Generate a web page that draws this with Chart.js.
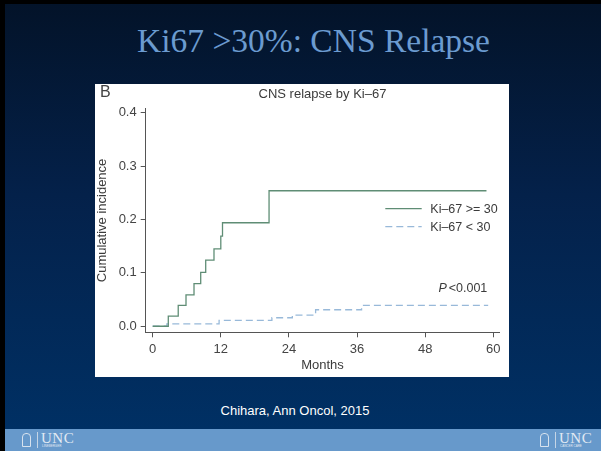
<!DOCTYPE html>
<html>
<head>
<meta charset="utf-8">
<script src="https://cdn.jsdelivr.net/npm/chart.js@4/dist/chart.umd.min.js"></script>
<style>
  html, body { margin: 0; padding: 0; background: #000; }
  #slide { position: absolute; left: 0; top: 0; width: 601px; height: 451px; background: #000; overflow: hidden; }
  #bg { position: absolute; left: 5px; top: 4px; width: 596px; height: 425px;
        background: linear-gradient(to bottom, #031329 0%, #04214a 45%, #003064 100%); }
  #title { position: absolute; left: 13px; top: 22px; width: 601px; text-align: center;
           font-family: "Liberation Serif", "Times New Roman", serif; font-size: 33.5px; color: #6b9bd0; }
  #box { position: absolute; left: 95px; top: 84px; width: 414px; height: 293px; background: #fff; }
  #caption { position: absolute; left: 0; top: 403px; width: 590px; text-align: center;
             font-family: "Liberation Sans", Arial, sans-serif; font-size: 13px; color: #fff; }
  #footer { position: absolute; left: 5px; top: 429px; width: 596px; height: 22px; background: #6799cb; }
  .logo { position: absolute; top: 3px; height: 16px; width: 60px; white-space: nowrap; }
  .well { position: absolute; left: 0; top: 1px; width: 9px; height: 14px; border: 1.5px solid #d7e2ee;
          border-radius: 4px 4px 0 0; box-sizing: border-box; }
  .sep { position: absolute; left: 15px; top: 0; width: 1px; height: 16px; background: #c5d5e6; }
  .unc { position: absolute; left: 19px; top: -2px; font-family: "Liberation Serif", serif; font-size: 15px; color: #e1e9f3; letter-spacing: 0.5px; }
  .sub { position: absolute; left: 20px; top: 12px; font-family: "Liberation Sans", sans-serif; font-size: 3px; color: #e1e9f3; white-space: nowrap; }
</style>
</head>
<body>
<div id="slide">
  <div id="bg"></div>
  <div id="title">Ki67 &gt;30%: CNS Relapse</div>
  <div id="box"><canvas id="km" width="414" height="293"></canvas></div>
  <div id="caption">Chihara, Ann Oncol, 2015</div>
  <div id="footer">
    <div class="logo" style="left:17px"><div class="well"></div><div class="sep"></div><div class="unc">UNC</div><div class="sub">LINEBERGER</div></div>
    <div class="logo" style="left:535px"><div class="well"></div><div class="sep"></div><div class="unc">UNC</div><div class="sub">CANCER CARE</div></div>
  </div>
</div>
<script>
// cumulative incidence of CNS relapse
const highMonths = [0, 2.75, 4.5, 5.87, 7.28, 8.46, 9.34, 10.8, 12.0, 12.3, 20.5, 58.8];
const highCum    = [0, 0.019, 0.039, 0.059, 0.080, 0.101, 0.124, 0.145, 0.169, 0.194, 0.254, 0.254];
const lowMonths  = [0, 2.5, 11.7, 21.0, 24.6, 28.7, 36.8, 59.1];
const lowCum     = [0, 0.0045, 0.011, 0.016, 0.021, 0.031, 0.039, 0.039];

const monthTicks = [0, 12, 24, 36, 48, 60];
const cumTicks = [0, 0.1, 0.2, 0.3, 0.4];

const seriesNames = ['Ki\u201367 >= 30', 'Ki\u201367 < 30'];
const seriesColors = ['#5f8d75', '#98b9d9'];

const font = 'Liberation Sans, Arial, sans-serif';
const textColor = '#3b3b3b';
const axisColor = '#555';

function toPoints(xs, ys) {
  return xs.map((x, i) => ({ x: x, y: ys[i] }));
}

// legend, panel letter and p value drawn inside the plot
const extras = {
  id: 'extras',
  afterDraw(chart) {
    const c = chart.ctx;
    const a = chart.chartArea;
    c.save();
    c.fillStyle = '#444';
    c.font = '16px ' + font;
    c.textBaseline = 'middle';
    c.textAlign = 'left';
    c.fillText('B', 5, 9);

    const lx0 = a.right - 114, lx1 = a.right - 77.6, tx = a.right - 69;
    const rows = [a.top + 100, a.top + 118];
    c.lineWidth = 1.3;
    rows.forEach((y, i) => {
      c.strokeStyle = seriesColors[i];
      c.setLineDash(i === 1 ? [7, 4] : []);
      c.beginPath();
      c.moveTo(lx0, y);
      c.lineTo(lx1, y);
      c.stroke();
      c.setLineDash([]);
      c.fillStyle = textColor;
      c.font = '12.5px ' + font;
      c.fillText(seriesNames[i], tx, y + 0.5);
    });

    const rest = '<0.001';
    c.font = '12.5px ' + font;
    const rw = c.measureText(rest).width + 2;
    const px = a.right - 12;
    const py = a.top + 180;
    c.textAlign = 'right';
    c.fillText(rest, px, py);
    c.font = 'italic 12.5px ' + font;
    c.fillText('P', px - rw, py);
    c.restore();
  }
};

const chart = new Chart(document.getElementById('km'), {
  type: 'line',
  data: {
    datasets: [{
      label: seriesNames[0],
      data: toPoints(highMonths, highCum),
      borderColor: seriesColors[0],
      borderWidth: 1.3,
      stepped: 'before',
      pointRadius: 0,
      fill: false
    }, {
      label: seriesNames[1],
      data: toPoints(lowMonths, lowCum),
      borderColor: seriesColors[1],
      borderWidth: 1.3,
      borderDash: [7, 4],
      stepped: 'before',
      pointRadius: 0,
      fill: false
    }]
  },
  options: {
    responsive: false,
    animation: false,
    devicePixelRatio: 1,
    layout: { padding: { top: 0, right: 9.7, bottom: 0, left: 0 } },
    plugins: {
      legend: { display: false },
      tooltip: { enabled: false },
      title: {
        display: true,
        text: 'CNS relapse by Ki\u201367',
        fullSize: false,
        color: textColor,
        font: { family: font, size: 13, weight: 'normal' },
        padding: { top: 3, bottom: 6 }
      }
    },
    scales: {
      x: {
        type: 'linear',
        min: -1.23,
        max: 61.06,
        afterBuildTicks: s => { s.ticks = monthTicks.map(v => ({ value: v })); },
        afterFit: s => { s.height = 44.7; },
        grid: { drawOnChartArea: false, tickLength: 5, color: axisColor },
        border: { color: axisColor, width: 1 },
        ticks: { autoSkip: false, maxRotation: 0, padding: 4, color: '#444',
                 font: { family: font, size: 13 }, callback: v => String(v) },
        title: { display: true, text: 'Months', color: textColor,
                 font: { family: font, size: 13 }, padding: { top: 0, bottom: 4.2 } }
      },
      y: {
        min: -0.0113,
        max: 0.408,
        afterBuildTicks: s => { s.ticks = cumTicks.map(v => ({ value: v })); },
        afterFit: s => { s.width = 50.7; },
        grid: { drawOnChartArea: false, tickLength: 5, color: axisColor },
        border: { color: axisColor, width: 1 },
        ticks: { autoSkip: false, padding: 4, color: '#444',
                 font: { family: font, size: 13 }, callback: v => v.toFixed(1) },
        title: { display: true, text: 'Cumulative incidence', color: textColor,
                 font: { family: font, size: 13 }, padding: { top: 0, bottom: 0 } }
      }
    }
  },
  plugins: [extras]
});
</script>
</body>
</html>
